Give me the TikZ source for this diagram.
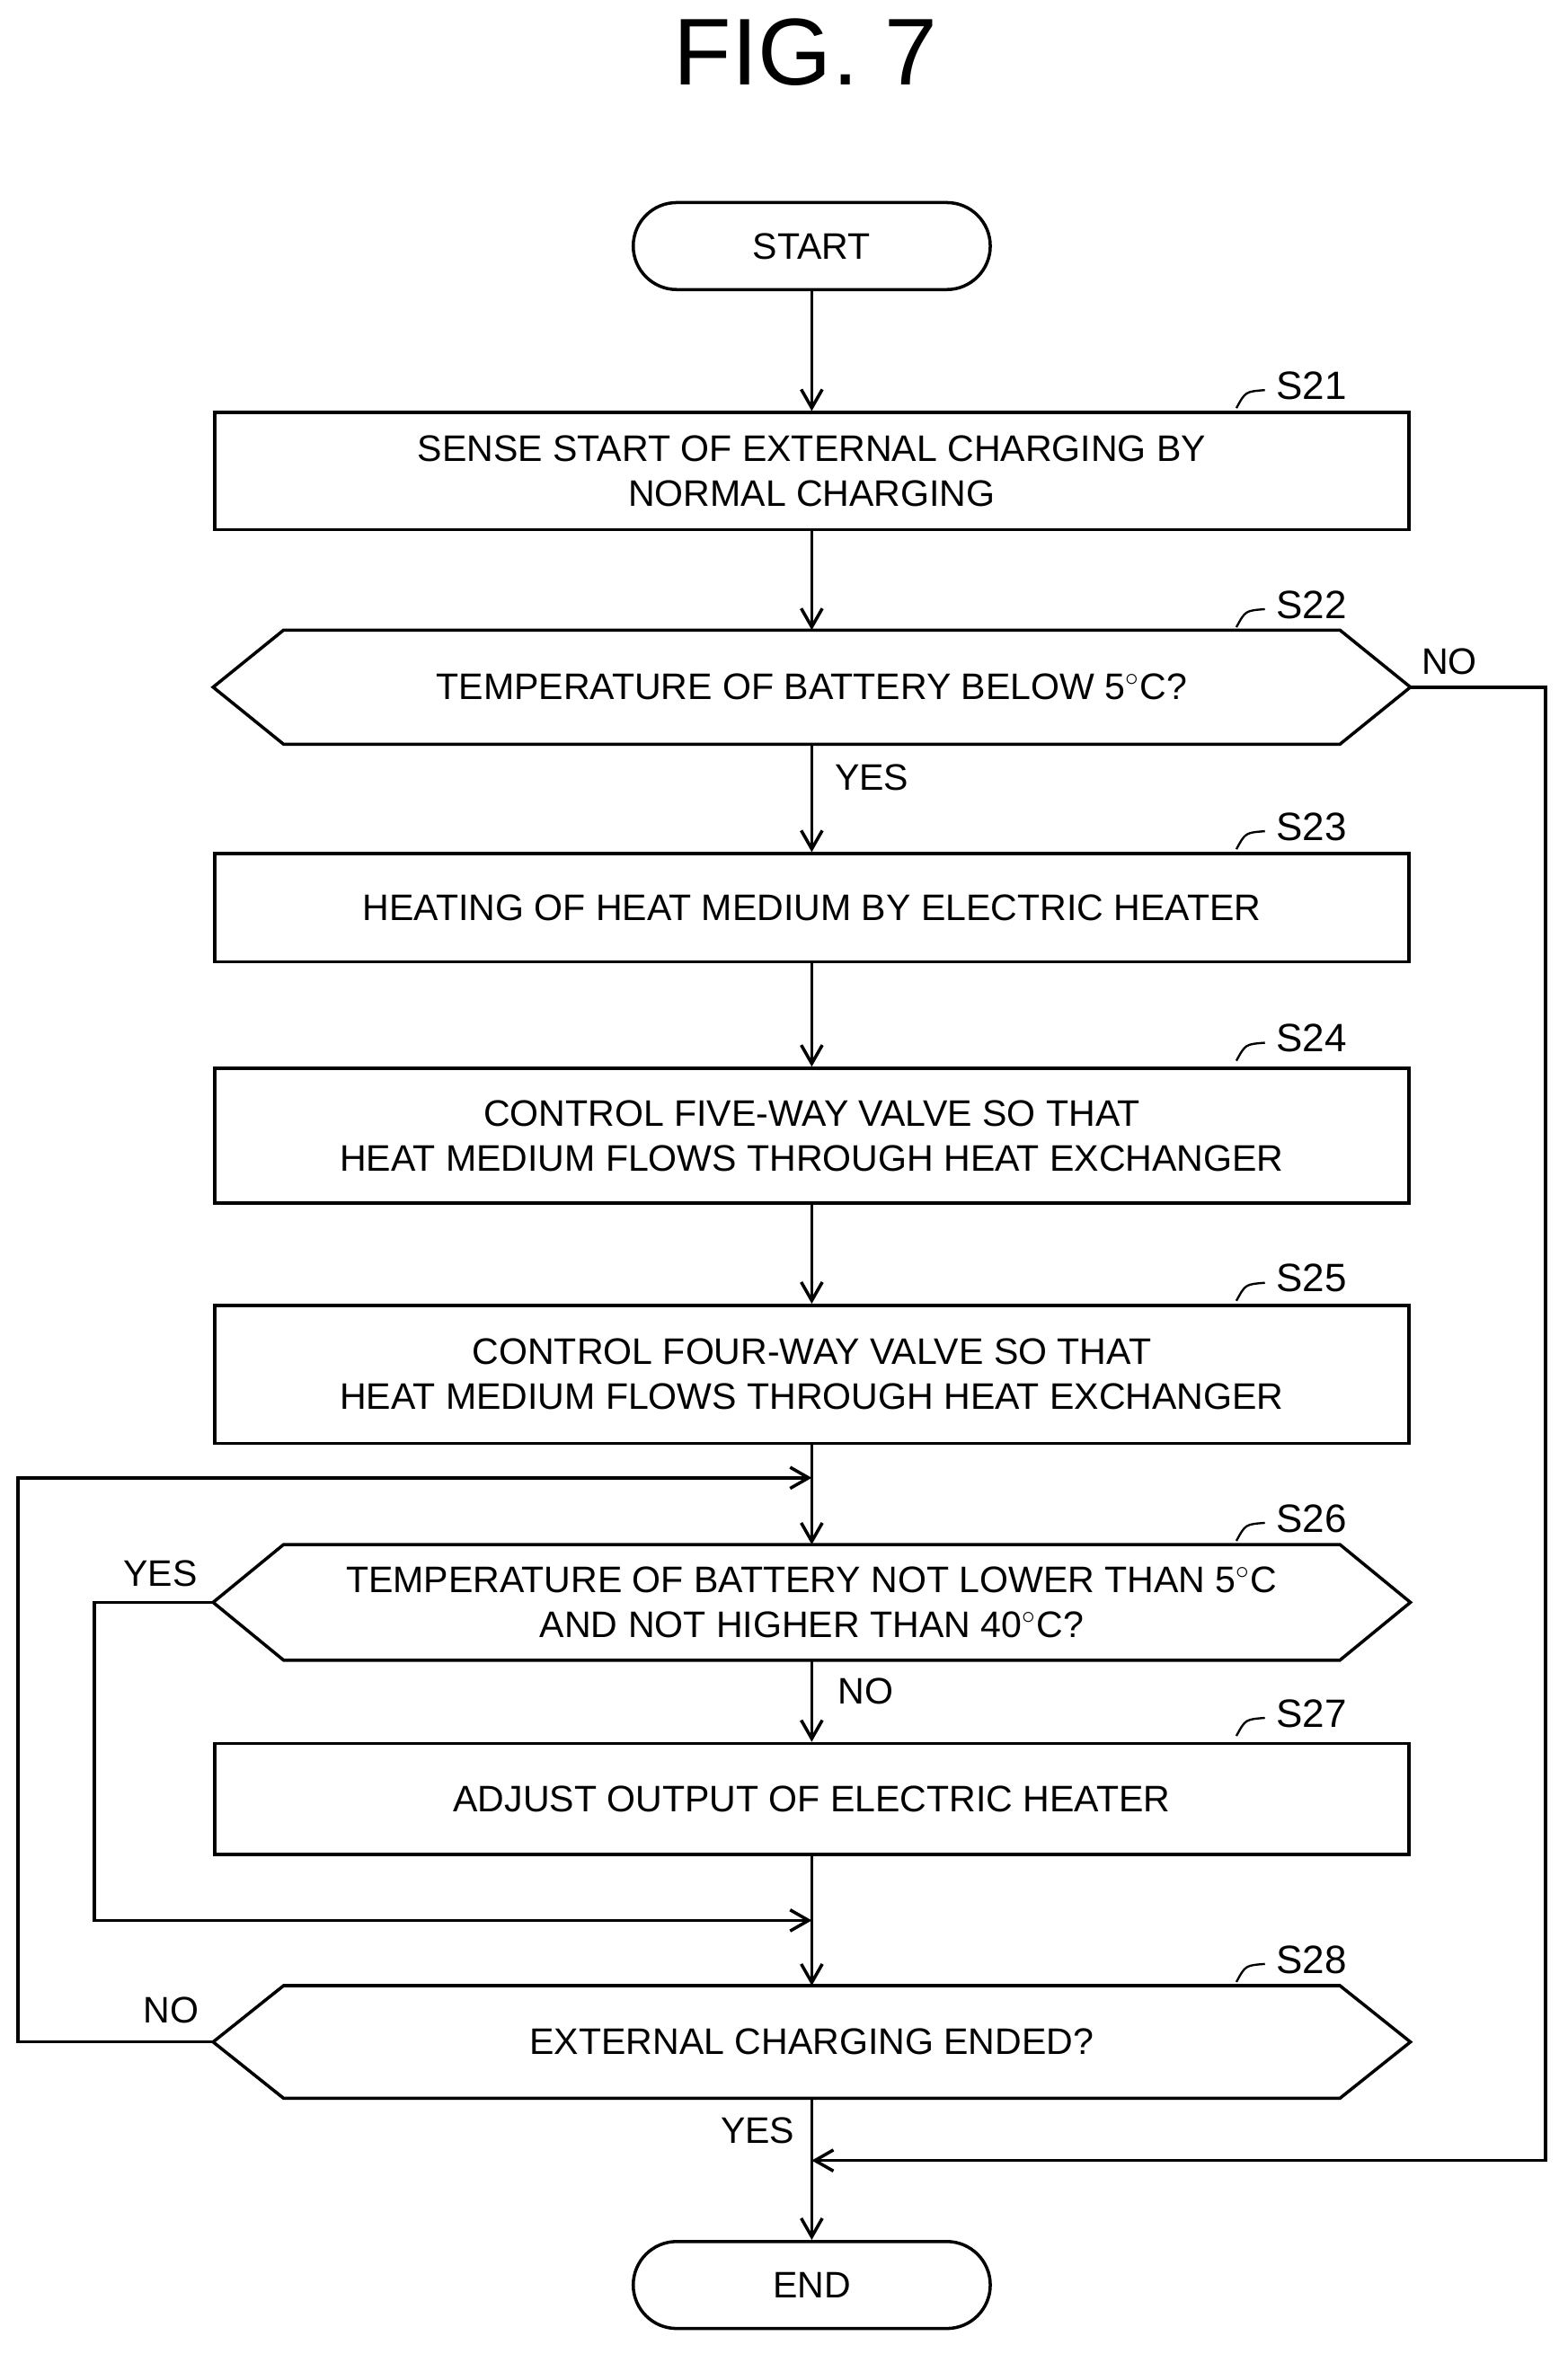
\documentclass[tikz,border=0pt]{standalone}
\usepackage{fontspec}
\setmainfont{Liberation Sans}
\usetikzlibrary{arrows.meta}

\begin{document}
\begin{tikzpicture}[x=0.02cm,y=-0.02cm,line width=1.2pt,
  every node/.style={inner sep=0pt,font=\fontsize{14}{17}\selectfont,align=center},
  box/.style={draw,minimum width=15.92cm},
  hexa/.style={minimum width=15.92cm},
  term/.style={draw,rounded corners=0.58cm,minimum width=4.76cm,minimum height=1.16cm},
  stepno/.style={font=\fontsize{15}{18}\selectfont},
  lbl/.style={font=\fontsize{14}{17}\selectfont},
  arr/.style={-{Straight Barb[length=7pt,width=8pt]}}]
\useasboundingbox (0,0) rectangle (1045,1569);
\node[font=\fontsize{36}{40}\selectfont] (title) at (537,35) {FIG. 7};
\node[term] (start) at (541,164) {START};
\node[box,minimum height=1.56cm] (s21) at (541,314) {SENSE START OF EXTERNAL CHARGING BY\\NORMAL CHARGING};
\node[hexa,minimum height=1.48cm] (s22) at (541,458) {TEMPERATURE OF BATTERY BELOW 5$^\circ$C?};
\node[box,minimum height=1.44cm] (s23) at (541,605) {HEATING OF HEAT MEDIUM BY ELECTRIC HEATER};
\node[box,minimum height=1.8cm] (s24) at (541,757) {CONTROL FIVE-WAY VALVE SO THAT\\HEAT MEDIUM FLOWS THROUGH HEAT EXCHANGER};
\node[box,minimum height=1.84cm] (s25) at (541,916) {CONTROL FOUR-WAY VALVE SO THAT\\HEAT MEDIUM FLOWS THROUGH HEAT EXCHANGER};
\node[hexa,minimum height=1.5cm] (s26) at (541,1068) {TEMPERATURE OF BATTERY NOT LOWER THAN 5$^\circ$C\\AND NOT HIGHER THAN 40$^\circ$C?};
\node[box,minimum height=1.48cm] (s27) at (541,1199) {ADJUST OUTPUT OF ELECTRIC HEATER};
\node[hexa,minimum height=1.46cm] (s28) at (541,1361) {EXTERNAL CHARGING ENDED?};
\node[term] (end) at (541,1523) {END};
% hexagon outlines
\foreach \h in {s22,s26,s28}{
  \draw (\h.west) -- ([xshift=0.94cm]\h.north west) -- ([xshift=-0.94cm]\h.north east)
    -- (\h.east) -- ([xshift=-0.94cm]\h.south east) -- ([xshift=0.94cm]\h.south west) -- cycle;
}
% junctions
\coordinate (j1) at (541,985);
\coordinate (j2) at (541,1280);
\coordinate (j3) at (541,1440);
% main flow
\draw[arr] (start) -- (s21);
\draw[arr] (s21) -- (s22);
\draw[arr] (s22) -- (s23);
\draw[arr] (s23) -- (s24);
\draw[arr] (s24) -- (s25);
\draw[arr] (s25) -- (s26);
\draw[arr] (s26) -- (s27);
\draw[arr] (s27) -- (s28);
\draw[arr] (s28) -- (end);
% loops
\draw[arr] (s22.east) -- (1030,458) -- (1030,1440) -- (j3);
\draw[arr] (s28.west) -- (12,1361) -- (12,985) -- (j1);
\draw[arr] (s26.west) -- (63,1068) -- (63,1280) -- (j2);
% branch labels
\node[lbl] (n22) at (966,441) {NO};
\node[lbl] (y22) at (581,518) {YES};
\node[lbl] (y26) at (107,1049) {YES};
\node[lbl] (n26) at (577,1127) {NO};
\node[lbl] (n28) at (114,1340) {NO};
\node[lbl] (y28) at (505,1420) {YES};
% step numbers
\foreach \nm/\y in {21/257,22/403,23/551,24/692,25/852,26/1012,27/1142,28/1306}{
  \node[stepno] (l\nm) at (874,\y) {S\nm};
  \draw[line width=0.8pt] (824,\y+15) .. controls (830,\y+4) .. (843,\y+3);
}
\end{tikzpicture}
\end{document}
